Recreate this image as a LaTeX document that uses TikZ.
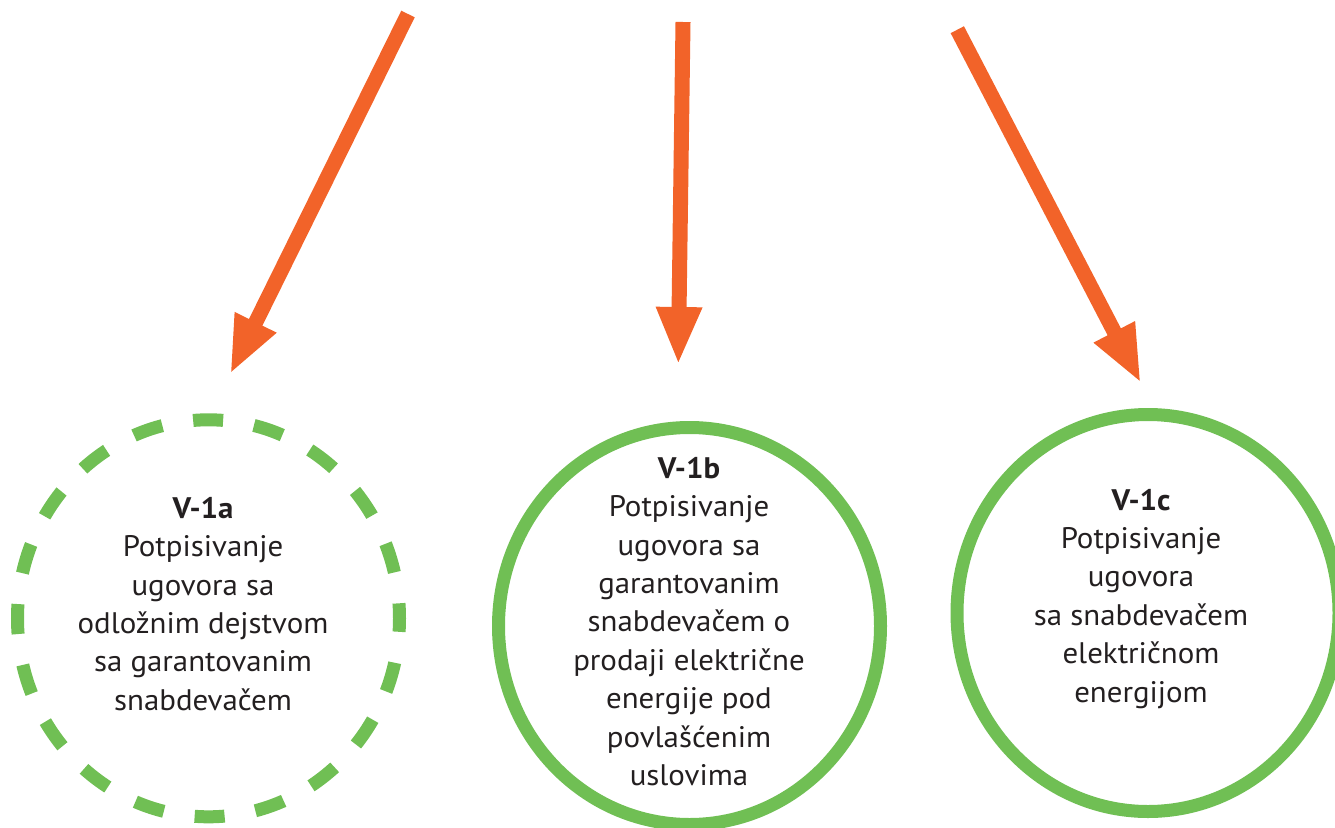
\documentclass[tikz,border=0pt]{standalone}
\usepackage{fontspec}
\setmainfont{PT Sans}[FakeStretch=1.04]
\usetikzlibrary{arrows.meta,shapes.geometric}
\definecolor{arroworange}{RGB}{242,99,41}
\definecolor{ringgreen}{RGB}{112,191,84}
\definecolor{textdark}{RGB}{35,31,32}
\tikzset{
  push/.style={draw=arroworange, line width=15pt,
    -{Triangle[length=58pt,width=42pt]}},
  ring/.style={ellipse, draw=ringgreen, line width=13pt, inner sep=0pt,
    minimum width=382pt, minimum height=397pt},
  dashedring/.style={ring, dash pattern=on 30pt off 31.27pt, dash phase=15pt},
  % the base anchor of a multi-line label sits on its last line
  label/.style={anchor=base, align=center, text=textdark,
    font=\fontsize{29.7}{38.4}\selectfont, inner sep=0pt}
}
\begin{document}
\begin{tikzpicture}[x=1pt,y=-1pt]
  \useasboundingbox (0,0) rectangle (1335,827);
  \clip (0,0) rectangle (1335,827);

  % three options
  \node[dashedring] (ringA) at (208.5,618.3) {};
  \node[ring] (ringB) at (689.5,626) {};
  \node[ring] (ringC) at (1148,613) {};

  \node[label] (textA) at (203,710.3) {\textbf{V-1a}\\Potpisivanje\\ugovora sa\\odložnim dejstvom\\sa garantovanim\\snabdevačem};
  \node[label] (textB) at (689,785.5) {\textbf{V-1b}\\Potpisivanje\\ugovora sa\\garantovanim\\snabdevačem o\\prodaji električne\\energije pod\\povlašćenim\\uslovima};
  \node[label] (textC) at (1141,702) {\textbf{V-1c}\\Potpisivanje\\ugovora\\sa snabdevačem\\električnom\\energijom};

  % arrows pointing to the options
  \coordinate (tailA) at (408,14);
  \coordinate (tipA) at (230,374.3);
  \coordinate (tailB) at (683,22);
  \coordinate (tipB) at (678.3,365);
  \coordinate (tailC) at (957.3,29.7);
  \coordinate (tipC) at (1141,383.3);
  \draw[push] (tailA) -- (tipA);
  \draw[push] (tailB) -- (tipB);
  \draw[push] (tailC) -- (tipC);
\end{tikzpicture}
\end{document}
